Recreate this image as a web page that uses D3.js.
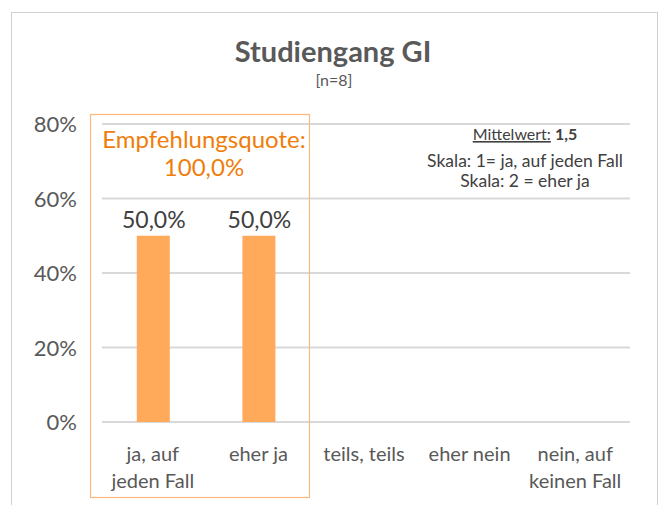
<!DOCTYPE html>
<html><head><meta charset="utf-8">
<script src="https://cdn.jsdelivr.net/npm/d3@7"></script>
<style>body{margin:0;background:#fff}svg{display:block}text{font-family:Lato,"Open Sans",sans-serif}</style>
</head><body>
<svg id="c" width="662" height="505"></svg>
<script>
const categories = [["ja, auf","jeden Fall"],["eher ja"],["teils, teils"],["eher nein"],["nein, auf","keinen Fall"]];
const values = [50.0, 50.0, null, null, null];
const yTicks = [0, 20, 40, 60, 80];
const title = "Studiengang GI";
const subtitle = "[n=8]";
const quoteLabel = ["Empfehlungsquote:", "100,0%"];
const meanLines = ["Skala: 1= ja, auf jeden Fall", "Skala: 2 = eher ja"];

const svg = d3.select("#c");
const grey = "#595959";
// outer frame
svg.append("rect").attr("x",11.5).attr("y",12.5).attr("width",646).attr("height",520)
  .attr("fill","none").attr("stroke","#d0d0d0").attr("stroke-width",1);

const x = d3.scaleBand().domain(d3.range(categories.length)).range([102,630]);
const y = d3.scaleLinear().domain([0,80]).range([422,124]);

svg.append("text").attr("x",333).attr("y",62).attr("text-anchor","middle")
  .attr("font-size",29).attr("font-weight",700).attr("fill",grey).text(title);
svg.append("text").attr("x",334).attr("y",86).attr("text-anchor","middle")
  .attr("font-size",16).attr("fill",grey).text(subtitle);

// grid
svg.append("g").selectAll("line").data(yTicks).join("line")
  .attr("x1",102).attr("x2",630).attr("y1",d=>y(d)).attr("y2",d=>y(d))
  .attr("stroke","#d9d9d9").attr("stroke-width",2);
svg.append("g").selectAll("text").data(yTicks).join("text")
  .attr("x",77).attr("y",d=>y(d)+8).attr("text-anchor","end")
  .attr("font-size",22).attr("fill",grey).text(d=>d+"%");

// bars
const bw = 33;
const bars = values.map((v,i)=>({v,i})).filter(d=>d.v!=null);
svg.append("g").selectAll("rect").data(bars).join("rect")
  .attr("x",d=>x(d.i)+x.bandwidth()/2-bw/2-1.5).attr("width",bw)
  .attr("y",d=>y(d.v)).attr("height",d=>y(0)-y(d.v)).attr("fill","#ffa95a");
svg.append("g").selectAll("text").data(bars).join("text")
  .attr("x",d=>x(d.i)+x.bandwidth()/2-1).attr("y",d=>y(d.v)-8).attr("text-anchor","middle")
  .attr("font-size",23).attr("fill","#404040").text(d=>d.v.toFixed(1).replace(".",",")+"%");

// category labels
const cl = svg.append("g").selectAll("text").data(categories).join("text")
  .attr("text-anchor","middle").attr("font-size",20).attr("fill",grey);
cl.each(function(d,i){
  d3.select(this).selectAll("tspan").data(d).join("tspan")
    .attr("x",x(i)+x.bandwidth()/2-2).attr("y",(t,j)=>461+j*27).text(t=>t);
});

// quote box
svg.append("rect").attr("x",90.5).attr("y",114.5).attr("width",219).attr("height",383)
  .attr("fill","none").attr("stroke","#ffb77a").attr("stroke-width",1.2);
svg.append("g").selectAll("text").data(quoteLabel).join("text")
  .attr("x",204).attr("y",(d,i)=>148+i*28).attr("text-anchor","middle")
  .attr("font-size",24).attr("fill","#f07d0a").text(d=>d);

// mean box
const mt = svg.append("text").attr("x",525).attr("y",140).attr("text-anchor","middle")
  .attr("font-size",16).attr("fill","#404040");
mt.append("tspan").attr("text-decoration","underline").text("Mittelwert:");
mt.append("tspan").text(" ");
mt.append("tspan").attr("font-weight",700).text("1,5");
svg.append("g").selectAll("text").data(meanLines).join("text")
  .attr("x",525).attr("y",(d,i)=>167+i*20).attr("text-anchor","middle")
  .attr("font-size",17.5).attr("fill","#404040").text(d=>d);
</script>
</body></html>
